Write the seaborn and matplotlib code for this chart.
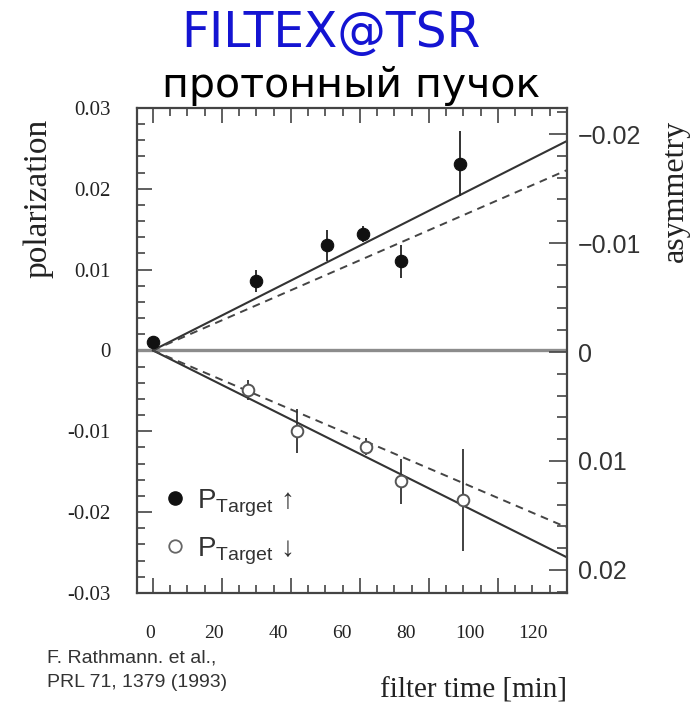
import matplotlib
matplotlib.use("Agg")
import matplotlib.pyplot as plt
from matplotlib.lines import Line2D
from matplotlib.ticker import MultipleLocator, FixedLocator, FixedFormatter
import seaborn as sns

# measured target polarization: spin up (filled) and spin down (open)
time_up = [0, 30, 50.5, 61, 72, 89]
pol_up = [0.0010, 0.0086, 0.0130, 0.0144, 0.0110, 0.0231]
err_up = [0.0008, 0.0014, 0.0019, 0.0010, 0.0021, 0.0040]

time_down = [27.5, 41.7, 61.7, 72, 90]
pol_down = [-0.0049, -0.0100, -0.0119, -0.0162, -0.0185]
err_down = [0.0012, 0.0027, 0.0010, 0.0028, 0.0063]

# build-up fits: start and end of the filter cycle
fit_time = [0, 120]
fit_up_solid = [0.0, 0.0259]
fit_up_dashed = [0.0, 0.0223]
fit_down_solid = [0.0, -0.0256]
fit_down_dashed = [0.0, -0.0219]

pol_ticks = [-0.03, -0.02, -0.01, 0, 0.01, 0.02, 0.03]
pol_labels = ["-0.03", "-0.02", "-0.01", "0", "0.01", "0.02", "0.03"]
asym_ticks = [-0.02, -0.01, 0, 0.01, 0.02]
asym_labels = ["\u22120.02", "\u22120.01", "0", "0.01", "0.02"]
time_ticks = [0, 20, 40, 60, 80, 100, 120]
time_labels = ["0", "20", "40", "60", "80", "100", "120"]

sns.set_theme(style="ticks")
plt.rcParams["font.family"] = ["DejaVu Sans"]
plt.rcParams["mathtext.fontset"] = "custom"
plt.rcParams["mathtext.rm"] = "Liberation Sans"

SERIF = ["Liberation Serif", "DejaVu Serif"]
SANS = ["Liberation Sans", "DejaVu Sans"]
INK = "#222222"
SPINE = "#444444"

fig = plt.figure(figsize=(6.98, 7.10), dpi=100)
ax = fig.add_axes([0.196, 0.165, 0.616, 0.683])

ax.set_xlim(-4.64, 120)
ax.set_ylim(-0.03, 0.03)

# zero line
ax.axhline(0, color="#8c8c8c", lw=2.4, zorder=1)

# fit lines
line_kw = dict(ax=ax, color="#333333", lw=1.5, legend=False, zorder=2)
sns.lineplot(x=fit_time, y=fit_up_solid, **line_kw)
sns.lineplot(x=fit_time, y=fit_down_solid, **line_kw)
dash_kw = dict(ax=ax, color="#444444", lw=1.4, legend=False, zorder=2,
               linestyle=(0, (4, 3)))
sns.lineplot(x=fit_time, y=fit_up_dashed, **dash_kw)
sns.lineplot(x=fit_time, y=fit_down_dashed, **dash_kw)

# error bars and markers
ax.errorbar(time_up, pol_up, yerr=err_up, fmt="none", ecolor=INK,
            elinewidth=1.3, capsize=0, zorder=3)
ax.errorbar(time_down, pol_down, yerr=err_down, fmt="none", ecolor="#333333",
            elinewidth=1.3, capsize=0, zorder=3)
sns.scatterplot(x=time_up, y=pol_up, ax=ax, s=80, color="#111111",
                edgecolor="#111111", linewidth=0.8, zorder=5, legend=False)
sns.scatterplot(x=time_down, y=pol_down, ax=ax, s=70, color="white",
                edgecolor="#555555", linewidth=1.4, zorder=5, legend=False)

# spines and ticks of the main axes
for s in ax.spines.values():
    s.set_color(SPINE)
    s.set_linewidth(1.6)
ax.yaxis.set_major_locator(FixedLocator(pol_ticks))
ax.yaxis.set_major_formatter(FixedFormatter(pol_labels))
ax.yaxis.set_minor_locator(MultipleLocator(0.002))
ax.xaxis.set_major_locator(FixedLocator(time_ticks))
ax.xaxis.set_minor_locator(MultipleLocator(5))
ax.tick_params(axis="both", which="both", direction="in", color=SPINE,
               top=True, right=False, labelbottom=False, width=1.2)
ax.tick_params(axis="both", which="major", length=11)
ax.tick_params(axis="both", which="minor", length=6)
ax.tick_params(axis="y", which="major", pad=19, labelsize=15, labelcolor=INK)
for lab in ax.get_yticklabels():
    lab.set_family(SERIF)

# time labels on their own scale below the frame
def to_label(x):
    return (x + 0.667) / 0.9246


def from_label(v):
    return 0.9246 * v - 0.667


sec = ax.secondary_xaxis("bottom", functions=(to_label, from_label))
sec.set_xticks(time_ticks)
sec.set_xticklabels(time_labels)
sec.spines["bottom"].set_visible(False)
sec.tick_params(axis="x", length=0, pad=23, labelsize=14, labelcolor=INK)
for lab in sec.get_xticklabels():
    lab.set_family(SERIF)

# asymmetry axis on the right (inverted)
ax2 = ax.twinx()
ax2.set_ylim(-0.0224, 0.0221)
ax2.invert_yaxis()
ax2.yaxis.set_major_locator(FixedLocator(asym_ticks))
ax2.yaxis.set_major_formatter(FixedFormatter(asym_labels))
ax2.yaxis.set_minor_locator(MultipleLocator(0.002))
ax2.tick_params(axis="y", which="both", direction="in", color=SPINE, width=1.2)
ax2.tick_params(axis="y", which="major", length=13, pad=8, labelsize=18,
                labelcolor="#333333")
ax2.tick_params(axis="y", which="minor", length=7)
for lab in ax2.get_yticklabels():
    lab.set_family(SANS)
for s in ax2.spines.values():
    s.set_visible(False)

# legend
handles = [
    Line2D([], [], marker="o", ls="none", markersize=9.5,
           markerfacecolor="#111111", markeredgecolor="#111111"),
    Line2D([], [], marker="o", ls="none", markersize=9,
           markerfacecolor="white", markeredgecolor="#666666",
           markeredgewidth=1.3),
]
labels = ["$\\mathrm{P}_{\\mathrm{Target}}$ \u2191",
          "$\\mathrm{P}_{\\mathrm{Target}}$ \u2193"]
leg = ax.legend(handles, labels, loc="upper left",
                bbox_to_anchor=(0.001, 0.27), frameon=False,
                handletextpad=0.35, labelspacing=0.6, handlelength=0.9,
                prop={"family": SANS, "size": 20})
for t in leg.get_texts():
    t.set_color("#333333")

# titles and axis names
fig.text(0.474, 0.934, "FILTEX@TSR", color="#1414d2", fontsize=35,
         ha="center", va="baseline", family=["DejaVu Sans"])
fig.text(0.503, 0.863, "протонный пучок", color="black", fontsize=29.5,
         ha="center", va="baseline", family=["DejaVu Sans"])
fig.text(0.054, 0.721, "polarization", rotation=90, fontsize=24,
         ha="center", va="center", family=SERIF, color=INK)
fig.text(0.967, 0.731, "asymmetry", rotation=90, fontsize=23,
         ha="center", va="center", family=SERIF, color=INK)
fig.text(0.678, 0.028, "filter time [min]", fontsize=21,
         ha="center", va="center", family=SERIF, color=INK)
fig.text(0.067, 0.085, "F. Rathmann. et al.,\nPRL 71, 1379 (1993)",
         fontsize=14, ha="left", va="top", linespacing=1.6,
         family=SANS, color="#333333")

fig.savefig("out.png", dpi=100, facecolor="white")
